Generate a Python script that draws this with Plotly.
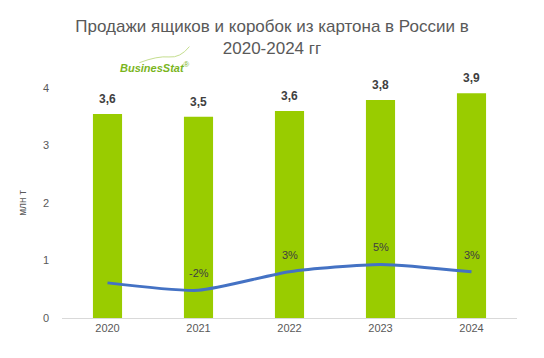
import plotly.graph_objects as go

years = ["2020", "2021", "2022", "2023", "2024"]
sales = [3.55, 3.5, 3.6, 3.79, 3.91]
sales_labels = ["3,6", "3,5", "3,6", "3,8", "3,9"]
growth = [0.0, -2.0, 3.0, 5.0, 3.0]
growth_labels = ["", "-2%", "3%", "5%", "3%"]
y_ticks = [0, 1, 2, 3, 4]

GREEN = "#99CC00"
BLUE = "#4472C4"
GREY = "#595959"
FONT = "Liberation Sans"

fig = go.Figure()
fig.add_trace(go.Bar(x=years, y=sales, marker_color=GREEN, marker_line_width=0,
                     showlegend=False, hoverinfo="skip"))
fig.add_trace(go.Scatter(x=years, y=growth, mode="lines", yaxis="y2",
                         line=dict(color=BLUE, width=3, shape="spline", smoothing=0.6),
                         showlegend=False, hoverinfo="skip"))

annotations = []
for i, (v, t) in enumerate(zip(sales, sales_labels)):
    annotations.append(dict(x=i, y=v, text="<b>" + t + "</b>", showarrow=False,
                            yshift=15, font=dict(family=FONT, size=12, color="#404040")))
for i, (v, t) in enumerate(zip(growth, growth_labels)):
    if t:
        annotations.append(dict(x=i, y=v, yref="y2", text=t, showarrow=False,
                                yshift=17, font=dict(family=FONT, size=11, color="#404040")))
annotations.append(dict(xref="paper", yref="paper", x=0.204, y=1.091, xanchor="center",
                        yanchor="middle",
                        text="<b><i>BusinesStat</i></b><sup>®</sup>", showarrow=False,
                        font=dict(family=FONT, size=11, color="#7AB51D")))

# small decorative swoosh of the logo (paper coordinates)
swoosh = "M 0.17 1.11 Q 0.21 1.14 0.235 1.135 T 0.28 1.18"

fig.update_layout(
    width=544, height=358,
    margin=dict(l=62, r=27, t=88, b=40),
    paper_bgcolor="white", plot_bgcolor="white",
    bargap=0.68,
    title=dict(text="Продажи ящиков и коробок из картона в России в<br>2020-2024 гг",
               x=0.5, xanchor="center", y=0.91, yanchor="top",
               font=dict(family=FONT, size=17, color=GREY)),
    font=dict(family=FONT, size=11, color=GREY),
    xaxis=dict(type="category", range=[-0.5, 4.5], showgrid=False, showline=True,
               linecolor="#D9D9D9", linewidth=1, ticks="",
               tickfont=dict(size=11, color=GREY)),
    yaxis=dict(range=[0, 4], tickvals=y_ticks, showgrid=False, zeroline=False,
               showline=False, ticks="", ticklabelstandoff=12,
               tickfont=dict(size=11, color=GREY),
               title=dict(text="млн т", font=dict(size=10, color=GREY), standoff=14)),
    yaxis2=dict(range=[-9.5, 52.7], overlaying="y", visible=False),
    annotations=annotations,
    shapes=[dict(type="path", xref="paper", yref="paper", path=swoosh,
                 line=dict(color="#C5DE8F", width=1))],
)

fig.write_html("out.html", config={"displayModeBar": False},
               post_script="document.body.style.margin='0px';")
